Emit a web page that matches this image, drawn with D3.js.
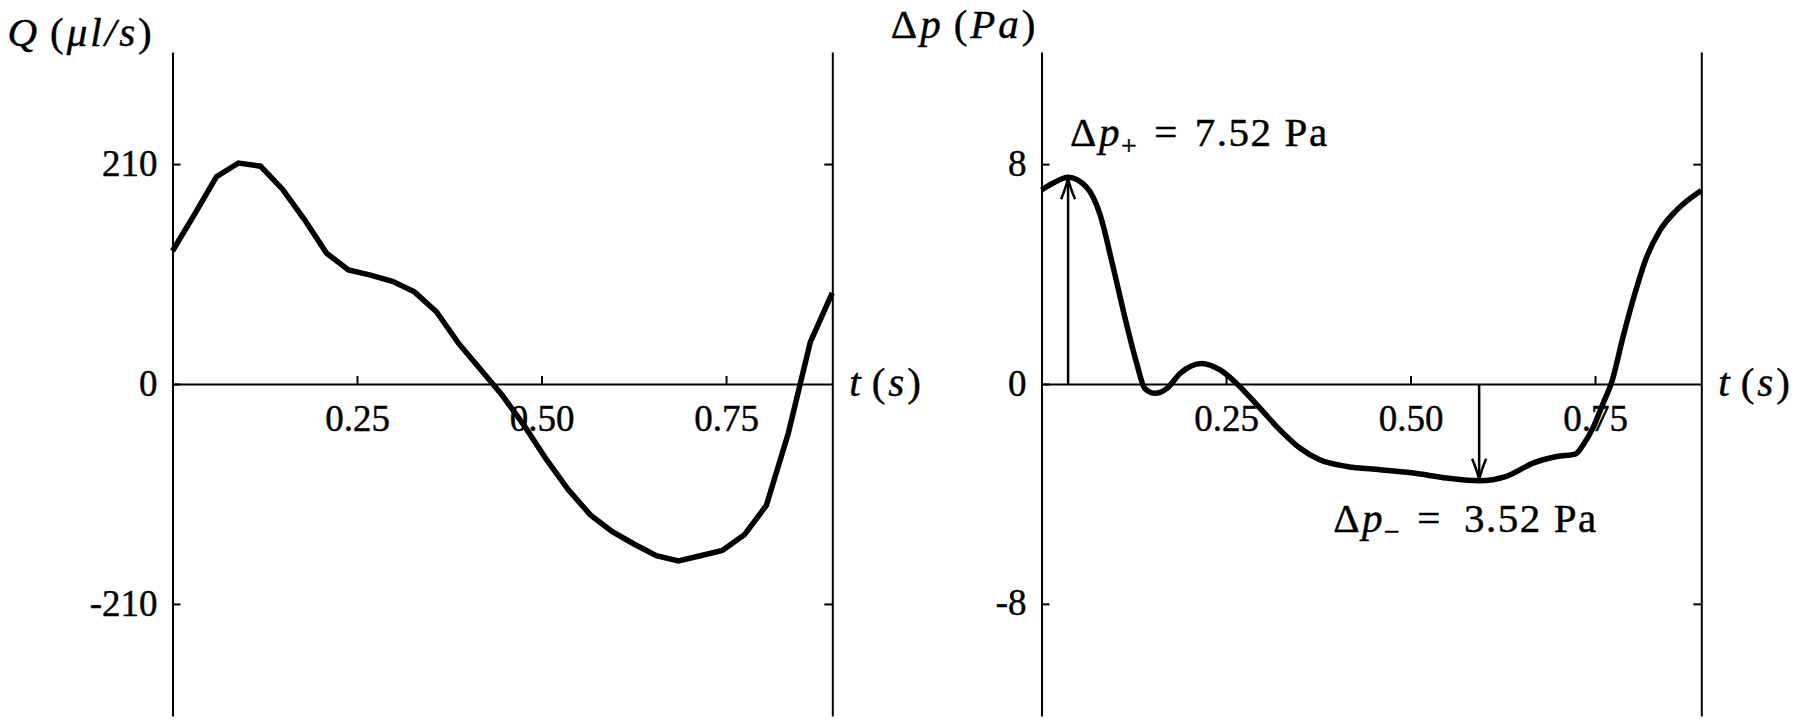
<!DOCTYPE html>
<html><head><meta charset="utf-8">
<script src="https://cdn.jsdelivr.net/npm/d3@7"></script>
<style>
body{margin:0;background:#fff}
svg text{font-family:"Liberation Serif","DejaVu Serif",serif;fill:#000;stroke:#000;stroke-width:0.45px}
</style>
</head><body>
<svg id="chart" width="1800" height="724"></svg>
<script>
// ---- data ----
const tQ = [0, 0.0298, 0.0596, 0.0894, 0.1192, 0.149, 0.1788, 0.2086, 0.2384, 0.2682,
            0.298, 0.3278, 0.3576, 0.3874, 0.4172, 0.447, 0.4768, 0.5066, 0.5364, 0.5662,
            0.596, 0.6258, 0.6556, 0.6854, 0.7152, 0.745, 0.7748, 0.8046, 0.8344, 0.8642, 0.894];
const flowQ = [127, 162, 198, 211, 208, 186, 157, 125, 109, 104,
               98, 88, 69, 39, 14, -11, -40, -72, -101, -125,
               -141, -153, -164, -169, -164, -159, -144, -116, -47, 40, 87];

const tP = [0, 0.018, 0.036, 0.061, 0.079, 0.097, 0.115, 0.129, 0.140, 0.154, 0.170, 0.188,
            0.217, 0.242, 0.264, 0.296, 0.323, 0.350, 0.377, 0.414, 0.459, 0.504, 0.549,
            0.593, 0.630, 0.666, 0.698, 0.724, 0.734, 0.748, 0.761, 0.773, 0.788, 0.804,
            0.820, 0.838, 0.860, 0.894];
const pressure = [7.06, 7.34, 7.52, 7.16, 6.19, 4.26, 2.2, 0.75, -0.16, -0.34, -0.16, 0.39,
                  0.75, 0.51, 0.03, -0.88, -1.67, -2.33, -2.76, -3.0, -3.12, -3.24, -3.42,
                  -3.52, -3.36, -2.88, -2.64, -2.54, -2.21, -1.55, -0.7, 0.1, 1.72, 3.29,
                  4.62, 5.59, 6.31, 7.04];

const xTicks = [0.25, 0.5, 0.75];
const xTickLabels = ["0.25", "0.50", "0.75"];
const qTicks = [-210, 0, 210];
const qTickLabels = ["-210", "0", "210"];
const pTicks = [-8, 0, 8];
const pTickLabels = ["-8", "0", "8"];
const tMax = 0.894;
const qMax = 317;
const pMax = 12.08;

const peakT = 0.036, peakV = 7.52, peakLabel = "7.52";
const troughT = 0.593, troughV = -3.52, troughLabel = "3.52";

// ---- drawing ----
const svg = d3.select("#chart");
const plotTop = 52, plotBottom = 716;
const tickFont = 37;

// text made of flowing pieces (italic / size / shifts)
function rich(x0, y0, size, spacing, parts, anchor) {
  const t = svg.append("text").attr("x", x0).attr("y", y0).attr("font-size", size)
    .attr("letter-spacing", spacing).attr("text-anchor", anchor || "start");
  parts.forEach(p => {
    const s = t.append("tspan").text(p.t);
    if (p.i) s.attr("font-style", "italic");
    if (p.s) s.attr("font-size", p.s);
    if (p.dx) s.attr("dx", p.dx);
    if (p.dy) s.attr("dy", p.dy);
  });
  return t;
}

function panel(cfg) {
  const g = svg.append("g");
  const x = d3.scaleLinear().domain([0, tMax]).range([cfg.x0, cfg.x1]);
  const y = d3.scaleLinear().domain([-cfg.vMax, cfg.vMax]).range([plotBottom, plotTop]);

  const la = g.append("g").attr("transform", `translate(${cfg.x0},0)`)
    .call(d3.axisLeft(y).tickValues(cfg.yTicks)
      .tickFormat((d, i) => cfg.yLabels[i])
      .tickSizeInner(-8).tickSizeOuter(0).tickPadding(15));
  const ra = g.append("g").attr("transform", `translate(${cfg.x1},0)`)
    .call(d3.axisRight(y).tickValues(cfg.yTicks.filter(d => d !== 0))
      .tickFormat("").tickSizeInner(-8).tickSizeOuter(0));
  const xa = g.append("g").attr("transform", `translate(0,${y(0)})`)
    .call(d3.axisBottom(x).tickValues(xTicks)
      .tickFormat((d, i) => xTickLabels[i])
      .tickSizeInner(-8).tickSizeOuter(0).tickPadding(21));

  [la, ra, xa].forEach(a => {
    a.select(".domain").attr("stroke", "#000").attr("stroke-width", 2);
    a.selectAll(".tick line").attr("stroke", "#000").attr("stroke-width", 2);
    a.selectAll(".tick text").attr("font-size", tickFont).attr("fill", "#000");
  });
  la.selectAll(".tick text").attr("dy", "0.3em");

  const line = d3.line().x(d => x(d[0])).y(d => y(d[1])).curve(cfg.curve);
  g.append("path").datum(d3.zip(cfg.t, cfg.v))
    .attr("d", line).attr("fill", "none").attr("stroke", "#000")
    .attr("stroke-width", 5.5).attr("stroke-linejoin", "miter");

  rich(cfg.x1 + 17, y(0) + 12, 41, 3, [
    {t: "t", i: true}, {t: "(", dx: 8}, {t: "s", i: true}, {t: ")"}]);

  return {x, y, g};
}

const L = panel({x0: 172.5, x1: 832.3, t: tQ, v: flowQ, vMax: qMax,
  yTicks: qTicks, yLabels: qTickLabels, curve: d3.curveLinear});
const R = panel({x0: 1041.5, x1: 1701.3, t: tP, v: pressure, vMax: pMax,
  yTicks: pTicks, yLabels: pTickLabels, curve: d3.curveMonotoneX});

// axis titles
rich(L.x(0) - 165, 46, 41, 3, [
  {t: "Q", i: true}, {t: "(", dx: 10}, {t: "μl/s", i: true}, {t: ")"}]);
rich(R.x(0) - 3, 38, 41, 3, [
  {t: "Δ"}, {t: "p", i: true}, {t: "(", dx: 10}, {t: "Pa", i: true}, {t: ")"}], "end");

function arrow(xp, y0, y1) {
  svg.append("line").attr("x1", xp).attr("x2", xp).attr("y1", y0).attr("y2", y1)
    .attr("stroke", "#000").attr("stroke-width", 2.5);
  const dir = y1 < y0 ? 1 : -1;
  svg.append("path")
    .attr("d", `M${xp - 7},${y1 + dir * 21} Q${xp - 2},${y1 + dir * 9} ${xp},${y1} Q${xp + 2},${y1 + dir * 9} ${xp + 7},${y1 + dir * 21}`)
    .attr("fill", "none").attr("stroke", "#000").attr("stroke-width", 2.5);
}
arrow(R.x(peakT), R.y(0), R.y(peakV) + 1);
arrow(R.x(troughT), R.y(0), R.y(troughV) - 1);

// annotations
rich(R.x(peakT) + 2, R.y(peakV) - 31, 41, 1.5, [
  {t: "Δ"}, {t: "p", i: true, dx: 1}, {t: "+", s: 28, dy: 9},
  {t: "=", dy: -9, dx: 16}, {t: peakLabel, dx: 16}, {t: "Pa", dx: 12}]);
rich(R.x(troughT) - 146, R.y(troughV) + 51, 41, 1.5, [
  {t: "Δ"}, {t: "p", i: true, dx: 1}, {t: "−", s: 28, dy: 9},
  {t: "=", dy: -9, dx: 16}, {t: troughLabel, dx: 22}, {t: "Pa", dx: 12}]);
</script>
</body></html>
